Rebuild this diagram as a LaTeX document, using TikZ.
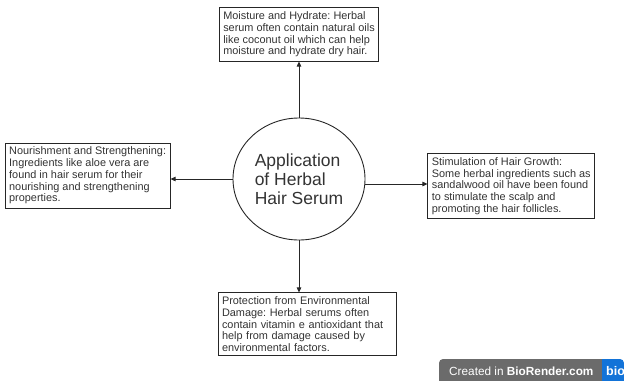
\documentclass[tikz,border=0pt]{standalone}
\usepackage{fontspec}
\setmainfont{Liberation Sans}
\usetikzlibrary{arrows.meta,positioning,shapes.geometric}
\definecolor{badgegray}{HTML}{6B6B6B}
\definecolor{badgeblue}{HTML}{1273D8}
\frenchspacing

\begin{document}
\begin{tikzpicture}[x=1pt, y=1pt, node distance=60pt,
  infobox/.style={draw=black!85, line width=0.9pt, align=left, inner sep=4pt,
    font=\fontsize{10.9}{11.7}\selectfont, text=black!80},
  link/.style={draw=black!85, line width=0.8pt, -{Triangle[length=5pt,width=4.5pt]}}]
  \useasboundingbox (0,0) rectangle (624,-381);

  % Nodes
  \node[ellipse, draw=black!85, line width=0.9pt, minimum width=132pt, minimum height=122pt,
    inner sep=0pt, align=left, text=black!80, font=\fontsize{17.5}{19}\selectfont]
    (serum) at (299,-179) {Application\\of Herbal\\Hair Serum};
  \node[infobox, above=56pt of serum] (moist)
    {Moisture and Hydrate: Herbal\\serum often contain natural oils\\like coconut oil which can help\\moisture and hydrate dry hair.};
  \node[infobox, left=62pt of serum, yshift=3.5pt] (nour)
    {Nourishment and Strengthening:\\Ingredients like aloe vera are\\found in hair serum for their\\nourishing and strengthening\\properties.};
  \node[infobox, right=62pt of serum, yshift=-7pt] (stim)
    {Stimulation of Hair Growth:\\Some herbal ingredients such as\\sandalwood oil have been found\\to stimulate the scalp and\\promoting the hair follicles.};
  \node[infobox, below=52pt of serum, xshift=8pt, text width=170pt] (prot)
    {Protection from Environmental\\Damage: Herbal serums often\\contain vitamin e antioxidant that\\help from damage caused by\\environmental factors.};

  % Edges
  \draw[link] (serum.north) -- (moist.south);
  \draw[link] (serum.west) -- (serum.west -| nour.east);
  \draw[link] ([yshift=-5pt]serum.east) -- ([yshift=-5pt]serum.east -| stim.west);
  \draw[link] (serum.south) -- (serum.south |- prot.north);

  % Badge
  \begin{scope}
    \clip (439,-381) -- (439,-364) [rounded corners=4pt] -- (439,-359) -- (624,-359) [sharp corners] -- (624,-381) -- cycle;
    \fill[badgegray] (439,-359) rectangle (602,-381);
    \fill[badgeblue] (602,-359) rectangle (630,-381);
    \node[anchor=base west, text=white, inner sep=0pt, font=\fontsize{11.8}{13}\selectfont]
      (made) at (449,-375) {Created in \textbf{BioRender.com}};
    \node[anchor=base west, text=white, inner sep=0pt, font=\bfseries\fontsize{12.5}{13}\selectfont]
      (logo) at (606,-375) {bio};
  \end{scope}
\end{tikzpicture}
\end{document}
